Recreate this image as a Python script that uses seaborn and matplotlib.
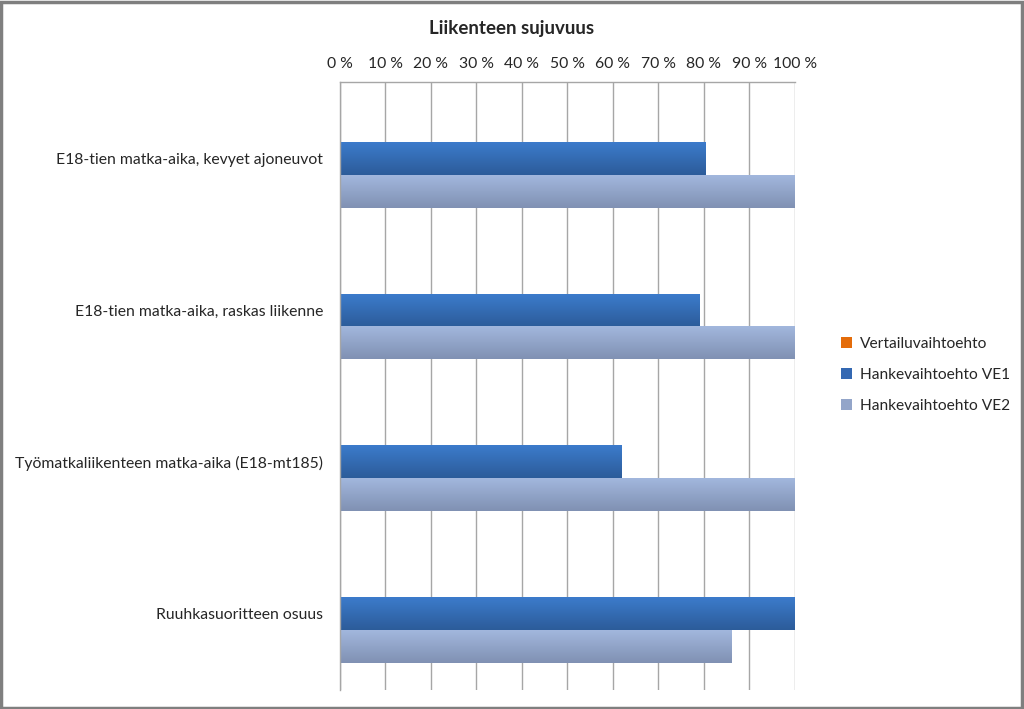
import numpy as np
import pandas as pd
import matplotlib
matplotlib.use("Agg")
import matplotlib.pyplot as plt
import matplotlib.colors as mcolors
import seaborn as sns

kategoriat = [
    "E18-tien matka-aika, kevyet ajoneuvot",
    "E18-tien matka-aika, raskas liikenne",
    "Työmatkaliikenteen matka-aika (E18-mt185)",
    "Ruuhkasuoritteen osuus",
]
sarjat = ["Vertailuvaihtoehto", "Hankevaihtoehto VE1", "Hankevaihtoehto VE2"]
vertailu = [0, 0, 0, 0]
ve1 = [80.5, 79, 62, 100]
ve2 = [100, 100, 100, 86]
tikit = [0, 10, 20, 30, 40, 50, 60, 70, 80, 90, 100]

varit = {"Vertailuvaihtoehto": "#e46c0a",
         "Hankevaihtoehto VE1": "#3468b2",
         "Hankevaihtoehto VE2": "#93a5c9"}
liukuvarit = {"Hankevaihtoehto VE1": ("#3c7bcb", "#2c5c9a"),
              "Hankevaihtoehto VE2": ("#a2b7dd", "#8091b3")}

df = pd.DataFrame({
    "kategoria": kategoriat * 3,
    "sarja": [s for s in sarjat for _ in kategoriat],
    "arvo": vertailu + ve1 + ve2,
})

sns.set_style("white")
plt.rcParams["font.family"] = ["Lato", "DejaVu Sans"]

fig = plt.figure(figsize=(10.24, 7.09), dpi=100)
ax = fig.add_axes([0.332, 0.027, 0.444, 0.857])

sns.barplot(data=df, x="arvo", y="kategoria", hue="sarja", order=kategoriat,
            hue_order=sarjat, palette=varit, orient="h", width=0.65,
            saturation=1, errorbar=None, ax=ax, zorder=3, linewidth=0)

# liukuväri palkkeihin
for sarja, kontit in zip(sarjat, ax.containers):
    if sarja not in liukuvarit:
        continue
    cmap = mcolors.LinearSegmentedColormap.from_list("g", liukuvarit[sarja])
    grad = np.linspace(0, 1, 64).reshape(-1, 1)
    for p in kontit:
        x, y, w, h = p.get_x(), p.get_y(), p.get_width(), p.get_height()
        if w <= 0:
            continue
        ax.imshow(grad, cmap=cmap, extent=(x, x + w, y + h, y), origin="upper",
                  aspect="auto", zorder=4, interpolation="bilinear")
ax.set_xlim(0, 100)
ax.set_ylim(3.5, -0.5)

ax.xaxis.tick_top()
ax.set_xticks(tikit)
ax.set_xticklabels([f"{t} %" for t in tikit], fontsize=11.3)
ax.tick_params(axis="x", length=0, pad=8)
ax.tick_params(axis="y", length=0, pad=12, labelsize=11.3)
ax.grid(axis="x", color="#a6a6a6", linewidth=1, zorder=0)
ax.set_axisbelow(True)
ax.set_xlabel("")
ax.set_ylabel("")
for s in ["right", "bottom"]:
    ax.spines[s].set_visible(False)
for s in ["left", "top"]:
    ax.spines[s].set_color("#a6a6a6")
    ax.spines[s].set_linewidth(1)
    ax.spines[s].set_zorder(5)

leg = ax.legend(loc="center left", bbox_to_anchor=(1.072, 0.518), frameon=False,
                fontsize=11.2, handlelength=0.7, handleheight=0.7,
                handletextpad=0.5, labelspacing=1.1)

fig.text(0.5, 0.96, "Liikenteen sujuvuus", ha="center", va="center",
         fontsize=13.5, fontweight="bold")

fig.patches.append(plt.Rectangle((0.001, 0.002), 0.997, 0.995, transform=fig.transFigure,
                                 fill=False, edgecolor="#7f7f7f", linewidth=2.5))

fig.savefig("out.png", dpi=100)
